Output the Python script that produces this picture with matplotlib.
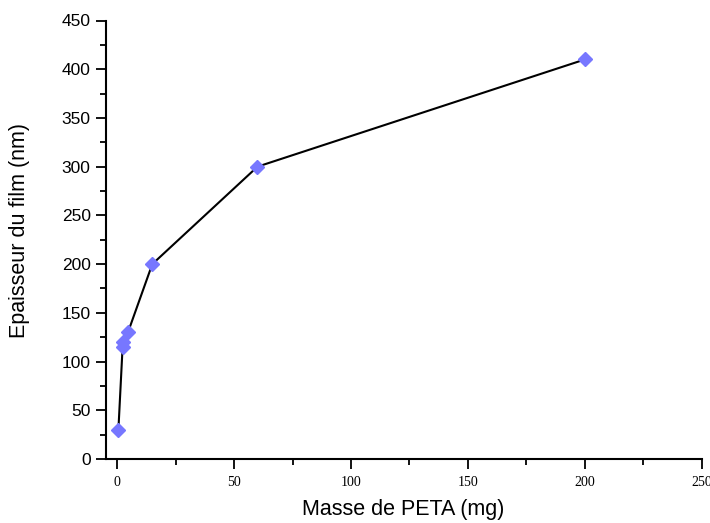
import matplotlib
matplotlib.use("Agg")
import matplotlib.pyplot as plt
from matplotlib.ticker import MultipleLocator

mass = [0.5, 2.3, 2.5, 4.6, 15, 60, 200]
thickness = [30, 115, 120, 130, 200, 300, 410]

W, H = 710, 523
L, R, B, T = 106, 701.7, 459, 20.5
fig = plt.figure(figsize=(7.1, 5.23), dpi=100)
ax = fig.add_axes([L/W, (H-B)/H, (R-L)/W, (B-T)/H])
ax.plot(mass, thickness, color="black", lw=1.5, zorder=2)
ax.plot(mass, thickness, ls="none", marker="D", ms=7, mfc="#7777ff", mec="#7777ff", zorder=3)

ax.set_xlim(-4.8, 250)
ax.set_ylim(0, 450)
ax.spines["top"].set_visible(False)
ax.spines["right"].set_visible(False)
for s in ["left", "bottom"]:
    ax.spines[s].set_linewidth(1.5)
ax.xaxis.set_major_locator(MultipleLocator(50))
ax.xaxis.set_minor_locator(MultipleLocator(25))
ax.yaxis.set_major_locator(MultipleLocator(50))
ax.yaxis.set_minor_locator(MultipleLocator(25))
ax.tick_params(which="major", direction="out", length=7, width=1.3)
ax.tick_params(which="minor", direction="out", length=4, width=1.3)
ax.tick_params(axis="y", which="major", pad=4)
ax.tick_params(axis="x", which="major", pad=5)
for lab in ax.get_xticklabels():
    lab.set_fontfamily("Liberation Serif")
    lab.set_fontsize(10)
for lab in ax.get_yticklabels():
    lab.set_fontfamily("Liberation Sans")
    lab.set_fontsize(12.5)
ax.set_xlabel("Masse de PETA (mg)", fontfamily="Liberation Sans", fontsize=15.5, va="center")
ax.set_ylabel("Epaisseur du film (nm)", fontfamily="Liberation Sans", fontsize=15.5, va="center")
ax.xaxis.set_label_coords((403.4 - L)/(R - L), (B - 510)/(B - T))
ax.yaxis.set_label_coords((20 - L)/(R - L), (B - 231)/(B - T))
fig.savefig("out.png", dpi=100)
